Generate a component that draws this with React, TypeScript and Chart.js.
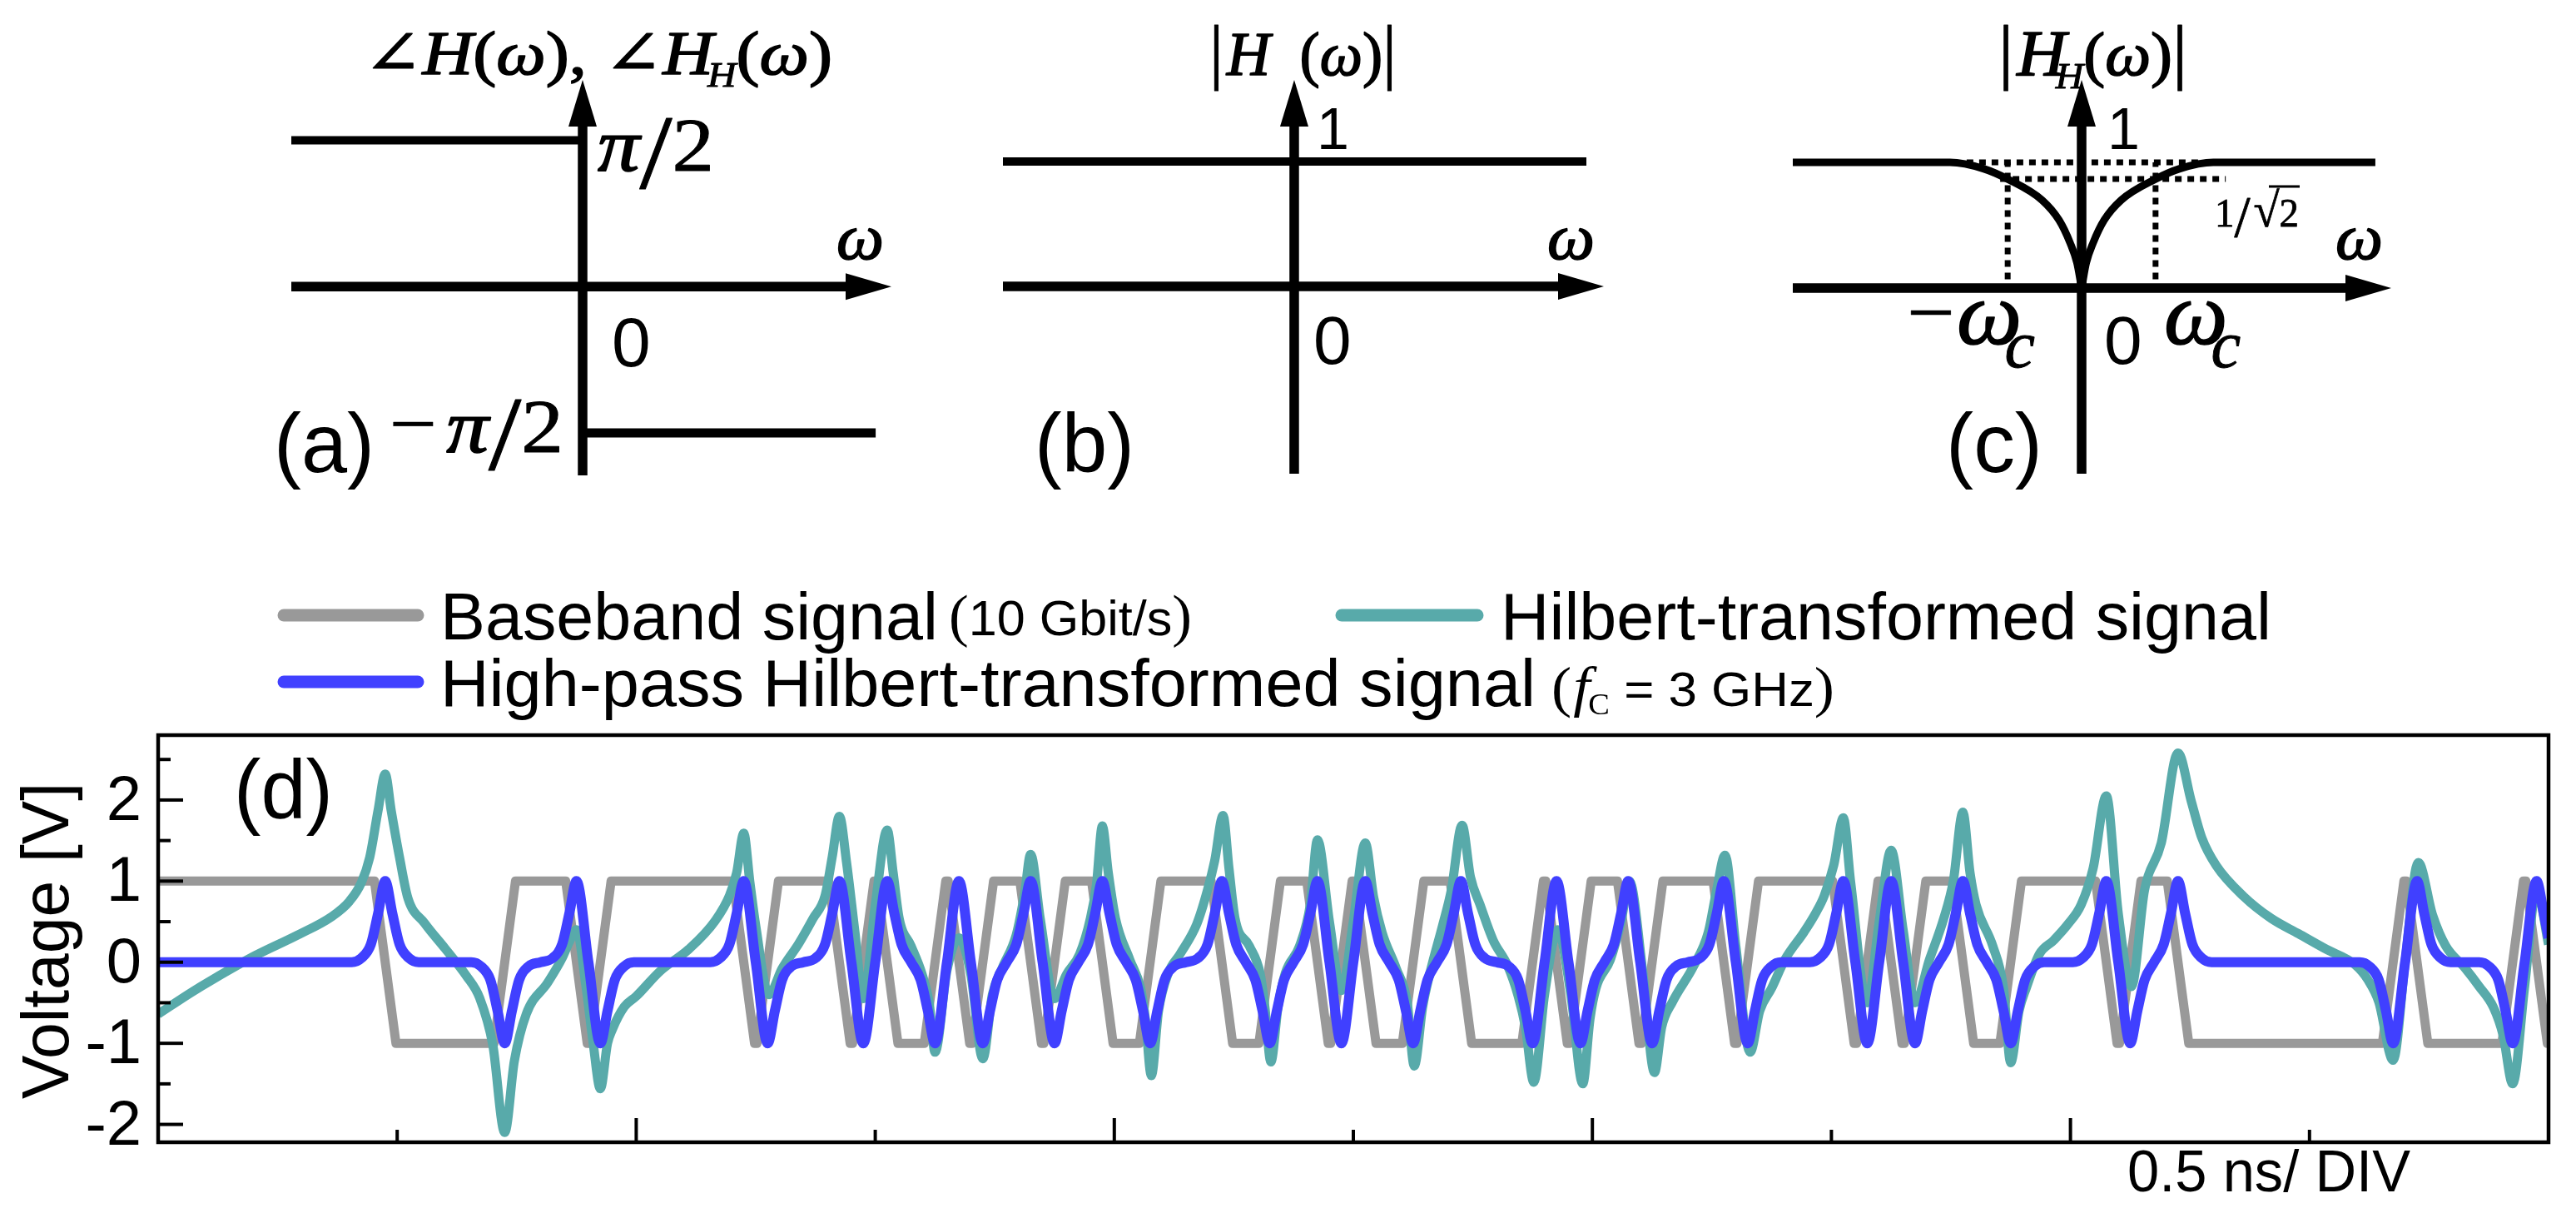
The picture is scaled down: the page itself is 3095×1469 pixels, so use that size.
import React, { useEffect, useRef } from "react";
import { Chart, registerables } from "chart.js";

Chart.register(...registerables);

const PAGE_W = 3095;
const PAGE_H = 1469;
const SANS = '"Liberation Sans", Arial, Helvetica, sans-serif';
const SERIF = '"Liberation Serif", "Times New Roman", "DejaVu Serif", serif';

// ---------------- (a) phase response, in units of pi/2 ----------------
const phaseNegOmega = [-1, 0];
const phaseNegValue = [1, 1];
const phasePosOmega = [0, 1.006];
const phasePosValue = [-1, -1];

// ---------------- (b) all-pass magnitude ----------------
const flatOmega = [-1, 1.003];
const flatMag = [1, 1];

// ---------------- (c) high-pass Hilbert magnitude ----------------
const hpOmegaLeft = [-1, -0.456, -0.34, -0.254, -0.137, -0.078, -0.04, -0.016, 0];
const hpMagLeft = [1, 1, 0.95, 0.865, 0.7, 0.54, 0.36, 0.2, 0];
const hpOmegaRight = [0, 0.016, 0.04, 0.078, 0.137, 0.254, 0.34, 0.456, 1.017];
const hpMagRight = [0, 0.2, 0.36, 0.54, 0.7, 0.865, 0.95, 1, 1];
const cutoffOmega = 0.256;
const halfPowerMag = 0.868;
const unityGuideOmega = [-0.398, 0.415];
const halfPowerGuideOmega = [-0.282, 0.499];
const cutoffGuideMag = [0.07, 1.0];

// ---------------- (d) waveforms (x in divisions) ----------------
const timeRange = [0, 10];
const voltRange = [-2.22, 2.8];
const baseStartLevel = 1;
const edgeHalfWidth = 0.045;
const bitEdges = [
  0.95, 1.45, 1.75, 1.85, 2.45, 2.55, 2.85, 2.95, 3.05, 3.25, 3.35, 3.45, 3.65, 3.75,
  3.95, 4.15, 4.45, 4.65, 4.85, 4.95, 5.05, 5.25, 5.45, 5.75, 5.85, 5.95, 6.15, 6.25,
  6.55, 6.65, 7.05, 7.15, 7.25, 7.35, 7.55, 7.75, 8.15, 8.25, 8.45, 9.35, 9.45, 9.85, 9.95,
];

const hilbertPts: number[][] = [
  [0, -0.64], [0.14, -0.37], [0.23, -0.21], [0.405, 0.08], [0.58, 0.33], [0.725, 0.56], [0.8, 0.75], [0.85, 0.98], [0.885, 1.29], [0.92, 1.87], [0.95, 2.32],
  [0.975, 1.87], [1.01, 1.29], [1.045, 0.79], [1.115, 0.48], [1.2, 0.17], [1.29, -0.17], [1.345, -0.44], [1.4, -1.02], [1.45, -2.1],
  [1.49, -1.22], [1.54, -0.64], [1.63, -0.25], [1.69, 0.05], [1.72, 0.25], [1.75, 0.4], [1.79, -0.3], [1.82, -1.0], [1.85, -1.56],
  [1.88, -1.0], [1.9, -0.83], [1.95, -0.55], [2.0, -0.42], [2.1, -0.11], [2.22, 0.16], [2.33, 0.51], [2.39, 0.82], [2.42, 1.1], [2.45, 1.59],
  [2.475, 1.0], [2.5, 0.45], [2.555, -0.4], [2.61, -0.08], [2.68, 0.23], [2.74, 0.54], [2.79, 0.82], [2.82, 1.3], [2.85, 1.8],
  [2.88, 1.23], [2.915, 0.37], [2.95, -0.45], [3.0, 0.7], [3.05, 1.63],
  [3.075, 1.1], [3.1, 0.54], [3.15, 0.2], [3.195, -0.14], [3.225, -0.49], [3.25, -1.11],
  [3.3, -0.1], [3.35, 0.3], [3.4, -0.15], [3.45, -1.19],
  [3.49, -0.4], [3.53, -0.08], [3.59, 0.34], [3.625, 0.85], [3.65, 1.33],
  [3.69, 0.54], [3.75, -0.45], [3.8, -0.15], [3.855, 0.1], [3.9, 0.54], [3.925, 0.95], [3.95, 1.68],
  [3.975, 1.1], [4.005, 0.54], [4.065, 0.03], [4.11, -0.32], [4.13, -0.7], [4.155, -1.4],
  [4.185, -0.6], [4.225, -0.14], [4.275, 0.1], [4.345, 0.47], [4.39, 0.89], [4.42, 1.25], [4.455, 1.81],
  [4.48, 1.15], [4.505, 0.54], [4.565, 0.2], [4.61, -0.14], [4.63, -0.55], [4.655, -1.23],
  [4.685, -0.55], [4.715, -0.14], [4.775, 0.2], [4.82, 0.71], [4.85, 1.51],
  [4.9, 0.5], [4.95, -0.35], [5.0, 0.5], [5.05, 1.47],
  [5.085, 0.8], [5.12, 0.37], [5.18, -0.08], [5.225, -0.49], [5.255, -1.28],
  [5.29, -0.55], [5.32, -0.14], [5.375, 0.47], [5.41, 0.89], [5.455, 1.69],
  [5.49, 1.05], [5.53, 0.71], [5.585, 0.27], [5.645, -0.04], [5.69, -0.42], [5.72, -0.8], [5.755, -1.48],
  [5.8, -0.4], [5.855, 0.4], [5.91, -0.4], [5.96, -1.5],
  [5.99, -0.7], [6.015, -0.32], [6.075, 0.03], [6.12, 0.5], [6.155, 1.0],
  [6.21, -0.1], [6.26, -1.36],
  [6.29, -0.8], [6.335, -0.49], [6.425, -0.04], [6.485, 0.37], [6.52, 0.89], [6.555, 1.32],
  [6.6, 0.2], [6.66, -1.11],
  [6.7, -0.6], [6.75, -0.32], [6.805, 0.03], [6.885, 0.37], [6.935, 0.61], [6.97, 0.82], [7.01, 1.2], [7.05, 1.78],
  [7.08, 1.0], [7.15, -0.5], [7.2, 0.5], [7.25, 1.38], [7.3, 0.4], [7.35, -0.5],
  [7.41, 0.03], [7.47, 0.54], [7.51, 1.0], [7.55, 1.85],
  [7.58, 1.1], [7.605, 0.71], [7.675, 0.2], [7.72, -0.32], [7.75, -1.24],
  [7.785, -0.6], [7.815, -0.32], [7.87, 0.1], [7.93, 0.27], [7.99, 0.47], [8.045, 0.71], [8.095, 1.16], [8.15, 2.05],
  [8.2, 0.6], [8.255, -0.3], [8.31, 0.89], [8.38, 1.47], [8.45, 2.58],
  [8.505, 1.99], [8.55, 1.53], [8.61, 1.19], [8.725, 0.81], [8.84, 0.54], [8.955, 0.35], [9.07, 0.16], [9.19, -0.03], [9.245, -0.22], [9.29, -0.49], [9.35, -1.21],
  [9.4, 0.0], [9.455, 1.23],
  [9.515, 0.58], [9.57, 0.2], [9.65, -0.07], [9.71, -0.3], [9.77, -0.56], [9.81, -0.9], [9.85, -1.5],
  [9.9, -0.3], [9.95, 0.9], [10, 0.22],
];

const hpHilbertPts: number[][] = [
  [0, 0], [0.81, 0], [0.85, 0.05], [0.89, 0.22], [0.92, 0.6], [0.95, 1], [0.98, 0.6], [1.01, 0.22], [1.05, 0.05], [1.09, 0],
  [1.31, 0], [1.35, -0.05], [1.39, -0.22], [1.42, -0.6], [1.45, -1], [1.48, -0.6], [1.51, -0.22], [1.55, -0.05], [1.6, 0],
  [1.65, 0.05], [1.69, 0.22], [1.72, 0.6], [1.75, 1], [1.8, 0],
  [1.85, -1], [1.88, -0.6], [1.91, -0.22], [1.95, -0.05], [1.99, 0],
  [2.31, 0], [2.35, 0.05], [2.39, 0.22], [2.42, 0.6], [2.45, 1], [2.5, 0],
  [2.55, -1], [2.58, -0.6], [2.61, -0.22], [2.65, -0.05], [2.7, 0],
  [2.75, 0.05], [2.79, 0.22], [2.82, 0.6], [2.85, 1], [2.9, 0],
  [2.95, -1], [3.0, 0],
  [3.05, 1], [3.08, 0.6], [3.11, 0.22], [3.15, 0],
  [3.19, -0.22], [3.22, -0.6], [3.25, -1], [3.3, 0],
  [3.35, 1], [3.4, 0],
  [3.45, -1], [3.48, -0.6], [3.51, -0.22], [3.55, 0],
  [3.59, 0.22], [3.62, 0.6], [3.65, 1], [3.7, 0],
  [3.75, -1], [3.78, -0.6], [3.81, -0.22], [3.85, 0],
  [3.89, 0.22], [3.92, 0.6], [3.95, 1], [3.98, 0.6], [4.01, 0.22], [4.05, 0],
  [4.09, -0.22], [4.12, -0.6], [4.15, -1], [4.18, -0.6], [4.21, -0.22], [4.25, -0.05], [4.3, 0],
  [4.35, 0.05], [4.39, 0.22], [4.42, 0.6], [4.45, 1], [4.48, 0.6], [4.51, 0.22], [4.55, 0],
  [4.59, -0.22], [4.62, -0.6], [4.65, -1], [4.68, -0.6], [4.71, -0.22], [4.75, 0],
  [4.79, 0.22], [4.82, 0.6], [4.85, 1], [4.9, 0],
  [4.95, -1], [5.0, 0],
  [5.05, 1], [5.08, 0.6], [5.11, 0.22], [5.15, 0],
  [5.19, -0.22], [5.22, -0.6], [5.25, -1], [5.28, -0.6], [5.31, -0.22], [5.35, 0],
  [5.39, 0.22], [5.42, 0.6], [5.45, 1], [5.48, 0.6], [5.51, 0.22], [5.55, 0.05], [5.6, 0],
  [5.65, -0.05], [5.69, -0.22], [5.72, -0.6], [5.75, -1], [5.8, 0],
  [5.85, 1], [5.9, 0],
  [5.95, -1], [5.98, -0.6], [6.01, -0.22], [6.05, 0],
  [6.09, 0.22], [6.12, 0.6], [6.15, 1], [6.2, 0],
  [6.25, -1], [6.28, -0.6], [6.31, -0.22], [6.35, -0.05], [6.4, 0],
  [6.45, 0.05], [6.49, 0.22], [6.52, 0.6], [6.55, 1], [6.6, 0],
  [6.65, -1], [6.68, -0.6], [6.71, -0.22], [6.75, -0.05], [6.79, 0],
  [6.91, 0], [6.95, 0.05], [6.99, 0.22], [7.02, 0.6], [7.05, 1], [7.1, 0],
  [7.15, -1], [7.2, 0],
  [7.25, 1], [7.3, 0],
  [7.35, -1], [7.38, -0.6], [7.41, -0.22], [7.45, 0],
  [7.49, 0.22], [7.52, 0.6], [7.55, 1], [7.58, 0.6], [7.61, 0.22], [7.65, 0],
  [7.69, -0.22], [7.72, -0.6], [7.75, -1], [7.78, -0.6], [7.81, -0.22], [7.85, -0.05], [7.89, 0],
  [8.01, 0], [8.05, 0.05], [8.09, 0.22], [8.12, 0.6], [8.15, 1], [8.2, 0],
  [8.25, -1], [8.28, -0.6], [8.31, -0.22], [8.35, 0],
  [8.39, 0.22], [8.42, 0.6], [8.45, 1], [8.48, 0.6], [8.51, 0.22], [8.55, 0.05], [8.59, 0],
  [9.21, 0], [9.25, -0.05], [9.29, -0.22], [9.32, -0.6], [9.35, -1], [9.4, 0],
  [9.45, 1], [9.48, 0.6], [9.51, 0.22], [9.55, 0.05], [9.59, 0],
  [9.71, 0], [9.75, -0.05], [9.79, -0.22], [9.82, -0.6], [9.85, -1], [9.9, 0],
  [9.95, 1], [9.98, 0.6], [10, 0.3],
];

const yMajorTicks = [-2, -1, 0, 1, 2];
const yMinorTicks = [-1.5, -0.5, 0.5, 1.5, 2.5];
const xTickDivs = [1, 2, 3, 4, 5, 6, 7, 8, 9];
const seriesNames = ["Baseband signal", "Hilbert-transformed signal", "High-pass Hilbert-transformed signal"];
const seriesColors = ["#999999", "#58aaaa", "#4040ff"];

// ---------------- helpers ----------------
type Run = { t: string; f: string; dx?: number; dy?: number; b?: number };

function drawRuns(ctx: CanvasRenderingContext2D, runs: Run[], x: number, y: number, targetW?: number) {
  ctx.save();
  ctx.fillStyle = "#000";
  ctx.strokeStyle = "#000";
  ctx.lineJoin = "round";
  ctx.textAlign = "left";
  ctx.textBaseline = "alphabetic";
  const widths = runs.map((r) => {
    ctx.font = r.f;
    return ctx.measureText(r.t).width;
  });
  const natural = runs.reduce((s, r, i) => s + (r.dx || 0) + widths[i], 0);
  const k = targetW ? targetW / natural : 1;
  ctx.translate(x, y);
  ctx.scale(k, 1);
  let cx = 0;
  runs.forEach((r, i) => {
    cx += r.dx || 0;
    ctx.font = r.f;
    ctx.fillText(r.t, cx, r.dy || 0);
    if (r.b) {
      ctx.lineWidth = r.b;
      ctx.strokeText(r.t, cx, r.dy || 0);
    }
    cx += widths[i];
  });
  ctx.restore();
}

const zip = (xs: number[], ys: number[]) => xs.map((x, i) => ({ x, y: ys[i] }));
const pairs = (p: number[][]) => p.map(([x, y]) => ({ x, y }));

function buildBaseband() {
  const out: { x: number; y: number }[] = [];
  let lvl = baseStartLevel;
  out.push({ x: timeRange[0], y: lvl });
  bitEdges.forEach((t) => {
    out.push({ x: t - edgeHalfWidth, y: lvl });
    lvl = -lvl;
    out.push({ x: t + edgeHalfWidth, y: lvl });
  });
  out.push({ x: timeRange[1], y: lvl });
  return out;
}

function lineDs(data: any[], color: string, width: number, extra: any = {}) {
  return {
    data,
    showLine: true,
    borderColor: color,
    backgroundColor: color,
    borderWidth: width,
    pointRadius: 0,
    pointHoverRadius: 0,
    fill: false,
    tension: 0,
    clip: 0,
    borderCapStyle: "butt",
    borderJoinStyle: "round",
    ...extra,
  };
}

function baseConfig(padding: any, xr: number[], yr: number[], datasets: any[], plugins: any[]) {
  return {
    type: "scatter",
    data: { datasets },
    options: {
      animation: false,
      responsive: false,
      maintainAspectRatio: false,
      devicePixelRatio: 1,
      events: [],
      layout: { padding },
      plugins: { legend: { display: false }, tooltip: { enabled: false }, title: { display: false } },
      scales: {
        x: { type: "linear", min: xr[0], max: xr[1], display: false },
        y: { type: "linear", min: yr[0], max: yr[1], display: false },
      },
    },
    plugins,
  } as any;
}

const arrowAxesPlugin = {
  id: "arrowAxes",
  beforeDatasetsDraw(chart: any) {
    const { ctx, chartArea: a, scales } = chart;
    const x0 = scales.x.getPixelForValue(0);
    const y0 = scales.y.getPixelForValue(0);
    ctx.save();
    ctx.strokeStyle = "#000";
    ctx.fillStyle = "#000";
    ctx.lineWidth = 11.5;
    ctx.lineCap = "butt";
    ctx.beginPath();
    ctx.moveTo(x0, a.bottom);
    ctx.lineTo(x0, a.top + 45);
    ctx.stroke();
    ctx.beginPath();
    ctx.moveTo(x0, a.top);
    ctx.lineTo(x0 - 17, a.top + 56);
    ctx.lineTo(x0 + 17, a.top + 56);
    ctx.closePath();
    ctx.fill();
    ctx.beginPath();
    ctx.moveTo(a.left, y0);
    ctx.lineTo(a.right - 45, y0);
    ctx.stroke();
    ctx.beginPath();
    ctx.moveTo(a.right, y0);
    ctx.lineTo(a.right - 55, y0 - 16);
    ctx.lineTo(a.right - 55, y0 + 16);
    ctx.closePath();
    ctx.fill();
    ctx.restore();
  },
};

const sv = (s: number, style = "") => `${style} ${s}px ${SERIF}`.trim();
const ss = (s: number) => `${s}px ${SANS}`;
const B = 1.6;

const textsA = {
  id: "textsA",
  afterDraw(chart: any) {
    const ctx = chart.ctx;
    drawRuns(ctx, [
      { t: "∠", f: sv(74), b: B },
      { t: "H", f: sv(74, "italic"), b: B },
      { t: "(", f: sv(74), b: B },
      { t: "ω", f: sv(74, "italic"), b: B },
      { t: ")", f: sv(74), b: B },
      { t: ", ", f: sv(74), b: B },
      { t: "∠", f: sv(74), b: B },
      { t: "H", f: sv(74, "italic"), b: B },
      { t: "H", f: sv(42, "italic"), dy: 15, dx: -6, b: 1 },
      { t: "(", f: sv(74), b: B },
      { t: "ω", f: sv(74, "italic"), b: B },
      { t: ")", f: sv(74), b: B },
    ], 437, 89, 563);
    drawRuns(ctx, [
      { t: "π", f: sv(92, "italic"), b: B },
      { t: "/", f: sv(128), dy: 21, b: 1 },
      { t: "2", f: sv(92), b: 1 },
    ], 718, 205, 140);
    drawRuns(ctx, [
      { t: "−", f: sv(92), dy: -3, b: 0.5 },
      { t: "π", f: sv(92, "italic"), dx: 10, b: B },
      { t: "/", f: sv(128), dy: 21, b: 1 },
      { t: "2", f: sv(92), b: 1 },
    ], 468, 543, 209);
    drawRuns(ctx, [{ t: "ω", f: sv(78, "italic"), b: B }], 1005, 311, 57);
    drawRuns(ctx, [{ t: "0", f: ss(84) }], 735, 440);
    drawRuns(ctx, [{ t: "(a)", f: ss(100) }], 329, 567, 121);
  },
};

const textsB = {
  id: "textsB",
  afterDraw(chart: any) {
    const ctx = chart.ctx;
    drawRuns(ctx, [
      { t: "|", f: sv(86), b: 1 },
      { t: "H", f: sv(74, "italic"), dx: 4, b: B },
      { t: "(", f: sv(74), dx: 36, b: B },
      { t: "ω", f: sv(74, "italic"), b: B },
      { t: ")", f: sv(74), b: B },
      { t: "|", f: sv(86), b: 1 },
    ], 1453, 90, 225);
    drawRuns(ctx, [{ t: "1", f: ss(70) }], 1582, 179);
    drawRuns(ctx, [{ t: "ω", f: sv(78, "italic"), b: B }], 1859, 311, 57);
    drawRuns(ctx, [{ t: "0", f: ss(82) }], 1578, 437);
    drawRuns(ctx, [{ t: "(b)", f: ss(100) }], 1243, 567, 120);
  },
};

const textsC = {
  id: "textsC",
  afterDraw(chart: any) {
    const ctx = chart.ctx;
    drawRuns(ctx, [
      { t: "|", f: sv(86), b: 1 },
      { t: "H", f: sv(78, "italic"), dx: 4, b: B },
      { t: "H", f: sv(44, "italic"), dy: 16, dx: -12, b: 1 },
      { t: "(", f: sv(74), b: B },
      { t: "ω", f: sv(74, "italic"), b: B },
      { t: ")", f: sv(74), b: B },
      { t: "|", f: sv(86), b: 1 },
    ], 2401, 90, 227);
    drawRuns(ctx, [{ t: "1", f: ss(70) }], 2532, 179);
    drawRuns(ctx, [
      { t: "1", f: sv(48), b: 0.8 },
      { t: "/", f: sv(70), dy: 12, b: 0.8 },
      { t: "√", f: sv(58), dx: 4, b: 0.8 },
      { t: "2", f: sv(48), b: 0.8 },
    ], 2661, 272, 101);
    ctx.save();
    ctx.strokeStyle = "#000";
    ctx.lineWidth = 3;
    ctx.beginPath();
    ctx.moveTo(2726, 224);
    ctx.lineTo(2763, 224);
    ctx.stroke();
    ctx.restore();
    drawRuns(ctx, [{ t: "ω", f: sv(78, "italic"), b: B }], 2806, 311, 57);
    drawRuns(ctx, [
      { t: "−", f: sv(100), dy: -4, b: 0.5 },
      { t: "ω", f: sv(108, "italic"), dx: 2, b: B },
      { t: "c", f: sv(80, "italic"), dy: 28, dx: -20, b: 1 },
    ], 2291, 413, 154);
    drawRuns(ctx, [{ t: "0", f: ss(82) }], 2528, 437);
    drawRuns(ctx, [
      { t: "ω", f: sv(108, "italic"), b: B },
      { t: "c", f: sv(80, "italic"), dy: 28, dx: -20, b: 1 },
    ], 2600, 413, 92);
    drawRuns(ctx, [{ t: "(c)", f: ss(100) }], 2338, 567, 116);
  },
};

const decorD = {
  id: "decorD",
  afterDatasetsDraw(chart: any) {
    const { ctx, chartArea: a, scales } = chart;
    const xs = scales.x;
    const ys = scales.y;
    ctx.save();
    ctx.strokeStyle = "#000";
    ctx.lineCap = "butt";
    ctx.lineWidth = 4.5;
    ctx.strokeRect(a.left, a.top, a.right - a.left, a.bottom - a.top);
    ctx.lineWidth = 4;
    const seg = (x1: number, y1: number, x2: number, y2: number) => {
      ctx.beginPath();
      ctx.moveTo(x1, y1);
      ctx.lineTo(x2, y2);
      ctx.stroke();
    };
    yMajorTicks.forEach((v) => {
      const py = ys.getPixelForValue(v);
      seg(a.left, py, a.left + 30, py);
    });
    yMinorTicks.forEach((v) => {
      const py = ys.getPixelForValue(v);
      seg(a.left, py, a.left + 15, py);
    });
    xTickDivs.forEach((v) => {
      const px = xs.getPixelForValue(v);
      seg(px, a.bottom, px, a.bottom - (v % 2 === 0 ? 29 : 15));
    });
    ctx.fillStyle = "#000";
    ctx.font = ss(76);
    ctx.textAlign = "right";
    ctx.textBaseline = "alphabetic";
    yMajorTicks.forEach((v) => {
      ctx.fillText(String(v), a.left - 20, ys.getPixelForValue(v) + 24);
    });
    ctx.restore();

    // y axis title
    ctx.save();
    ctx.translate(82, 1130);
    ctx.rotate(-Math.PI / 2);
    drawRuns(ctx, [{ t: "Voltage [V]", f: ss(80) }], -190, 0, 380);
    ctx.restore();

    drawRuns(ctx, [{ t: "(d)", f: ss(100) }], 281, 983, 119);
    drawRuns(ctx, [{ t: "0.5 ns/ DIV", f: ss(70) }], 2556, 1431, 340);

    // legend
    const swatch = (x1: number, x2: number, y: number, c: string) => {
      ctx.save();
      ctx.strokeStyle = c;
      ctx.lineWidth = 15;
      ctx.lineCap = "round";
      ctx.beginPath();
      ctx.moveTo(x1, y);
      ctx.lineTo(x2, y);
      ctx.stroke();
      ctx.restore();
    };
    swatch(341, 502, 739, seriesColors[0]);
    swatch(1612, 1775, 739, seriesColors[1]);
    swatch(341, 502, 819, seriesColors[2]);
    drawRuns(ctx, [{ t: seriesNames[0], f: ss(80) }], 529, 768, 598);
    drawRuns(ctx, [
      { t: "(", f: sv(70) },
      { t: "10 Gbit/s", f: ss(60) },
      { t: ")", f: sv(70) },
    ], 1140, 763, 292);
    drawRuns(ctx, [{ t: seriesNames[1], f: ss(80) }], 1803, 768, 926);
    drawRuns(ctx, [{ t: seriesNames[2], f: ss(80) }], 529, 848, 1316);
    drawRuns(ctx, [
      { t: "(", f: sv(68) },
      { t: "f", f: sv(68, "italic"), dx: 2 },
      { t: "C", f: sv(36), dy: 10, dx: -2 },
      { t: " = 3 GHz", f: ss(58) },
      { t: ")", f: sv(68) },
    ], 1864, 848, 340);
  },
};

export default function App() {
  const refA = useRef<HTMLCanvasElement>(null);
  const refB = useRef<HTMLCanvasElement>(null);
  const refC = useRef<HTMLCanvasElement>(null);
  const refD = useRef<HTMLCanvasElement>(null);

  useEffect(() => {
    document.body.style.margin = "0";
    const charts: Chart[] = [];

    // (a)
    charts.push(
      new Chart(
        refA.current as HTMLCanvasElement,
        baseConfig(
          { left: 350, right: PAGE_W - 1071, top: 96, bottom: PAGE_H - 571 },
          [-1, 1.06],
          [-1.29, 1.413],
          [
            lineDs(zip(phaseNegOmega, phaseNegValue), "#000", 10),
            lineDs(zip(phasePosOmega, phasePosValue), "#000", 11),
          ],
          [arrowAxesPlugin, textsA]
        )
      )
    );

    // (b)
    charts.push(
      new Chart(
        refB.current as HTMLCanvasElement,
        baseConfig(
          { left: 1205, right: PAGE_W - 1927, top: 96, bottom: PAGE_H - 569 },
          [-1, 1.063],
          [-1.5, 1.653],
          [lineDs(zip(flatOmega, flatMag), "#000", 10)],
          [arrowAxesPlugin, textsB]
        )
      )
    );

    // (c)
    const dotted = { borderDash: [8, 7] };
    charts.push(
      new Chart(
        refC.current as HTMLCanvasElement,
        baseConfig(
          { left: 2154, right: PAGE_W - 2873, top: 96, bottom: PAGE_H - 569 },
          [-1, 1.072],
          [-1.477, 1.656],
          [
            lineDs(zip(hpOmegaLeft, hpMagLeft), "#000", 9, { cubicInterpolationMode: "monotone" }),
            lineDs(zip(hpOmegaRight, hpMagRight), "#000", 9, { cubicInterpolationMode: "monotone" }),
            lineDs(zip(unityGuideOmega, [1, 1]), "#000", 7, dotted),
            lineDs(zip(halfPowerGuideOmega, [halfPowerMag, halfPowerMag]), "#000", 7, dotted),
            lineDs(zip([-cutoffOmega, -cutoffOmega], cutoffGuideMag), "#000", 7, dotted),
            lineDs(zip([cutoffOmega, cutoffOmega], cutoffGuideMag), "#000", 7, dotted),
          ],
          [arrowAxesPlugin, textsC]
        )
      )
    );

    // (d)
    charts.push(
      new Chart(
        refD.current as HTMLCanvasElement,
        baseConfig(
          { left: 190, right: PAGE_W - 3062, top: 883, bottom: PAGE_H - 1372 },
          timeRange,
          voltRange,
          [
            lineDs(pairs(hpHilbertPts), seriesColors[2], 12, { cubicInterpolationMode: "monotone", order: 1 }),
            lineDs(pairs(hilbertPts), seriesColors[1], 11, { cubicInterpolationMode: "monotone", order: 2 }),
            lineDs(buildBaseband(), seriesColors[0], 11, { order: 3 }),
          ],
          [decorD]
        )
      )
    );

    return () => charts.forEach((c) => c.destroy());
  }, []);

  const cs: React.CSSProperties = { position: "absolute", left: 0, top: 0, width: PAGE_W, height: PAGE_H };
  return (
    <div
      style={{
        position: "fixed",
        left: 0,
        top: 0,
        width: PAGE_W,
        height: PAGE_H,
        background: "#ffffff",
        overflow: "hidden",
      }}
    >
      <canvas ref={refA} width={PAGE_W} height={PAGE_H} style={cs} />
      <canvas ref={refB} width={PAGE_W} height={PAGE_H} style={cs} />
      <canvas ref={refC} width={PAGE_W} height={PAGE_H} style={cs} />
      <canvas ref={refD} width={PAGE_W} height={PAGE_H} style={cs} />
    </div>
  );
}
